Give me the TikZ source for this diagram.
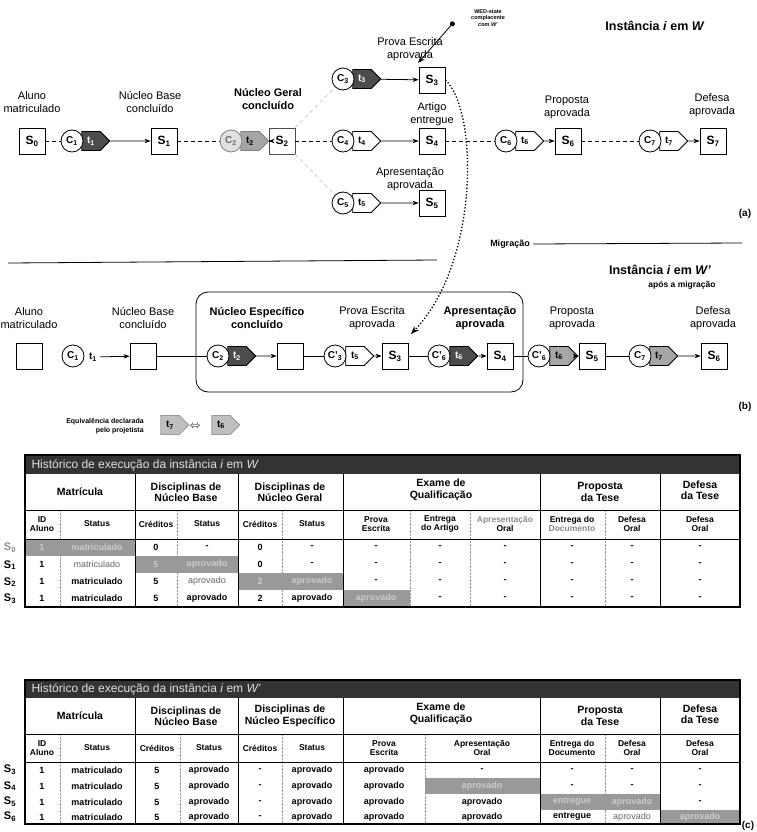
\documentclass[tikz,border=0pt]{standalone}
\usepackage{fontspec}
\setmainfont{Liberation Sans}
\usetikzlibrary{arrows.meta, positioning, shapes.symbols, calc}

\begin{document}
\begin{tikzpicture}[x=1pt, y=-1pt,
    lbl/.style={align=center, font=\fontsize{11}{13}\selectfont},
    blbl/.style={lbl, font=\fontsize{11}{13}\selectfont\bfseries},
    st/.style={draw, thick, fill=white, minimum size=26pt, inner sep=0pt, font=\fontsize{12}{12}\selectfont\bfseries},
    cnd/.style={circle, draw, thick, fill=white, minimum size=22pt, inner sep=0pt, font=\fontsize{10}{10}\selectfont\bfseries},
    trn/.style={signal, signal to=east, draw, thick, fill=white, minimum width=28pt, minimum height=19pt, inner sep=0pt, font=\fontsize{10}{10}\selectfont\bfseries},
    dark/.style={fill=black!70, text=white},
    mid/.style={fill=black!35},
    arr/.style={-{Stealth[length=6pt]}, thick},
    dsh/.style={thick, dash pattern=on 4pt off 3pt},
    hd/.style={align=center, font=\fontsize{10.5}{11.5}\selectfont\bfseries},
    sub/.style={align=center, font=\fontsize{8.5}{9}\selectfont\bfseries},
    cell/.style={font=\fontsize{9}{9}\selectfont\bfseries},
    hl/.style={cell, text=black!20},
    dim/.style={font=\fontsize{9}{9}\selectfont, text=black!60},
    rowl/.style={font=\fontsize{11}{11}\selectfont\bfseries}]
  \useasboundingbox (0,0) rectangle (756,832);

  % (a) instance in W
  \node[font=\fontsize{12.5}{12.5}\selectfont\bfseries] (titA) at (655,26) {Instância \textit{i} em \textit{W}};
  \node[align=center, font=\fontsize{5.5}{6.5}\selectfont\bfseries] (wed) at (488,18) {WED-state\\complacente\\com \textit{W'}};
  \coordinate (weddot) at (454,22);
  \coordinate (wedtip) at (418,63);
  \draw[{Circle[length=5pt]}-{Stealth[length=7pt]}, thick] (weddot) -- (wedtip);

  \node[lbl] (l0) at (32,102) {Aluno\\matriculado};
  \node[lbl] (l1) at (150,102) {Núcleo Base\\concluído};
  \node[blbl] (l2) at (268,99) {Núcleo Geral\\concluído};
  \node[lbl] (l3) at (410,49) {Prova Escrita\\aprovada};
  \node[lbl] (l4) at (432,114) {Artigo\\entregue};
  \node[lbl] (l5) at (410,179) {Apresentação\\aprovada};
  \node[lbl] (l6) at (567,107) {Proposta\\aprovada};
  \node[lbl] (l7) at (712,105) {Defesa\\aprovada};

  \node[st] (S0) at (32,141) {S\textsubscript{0}};
  \node[trn, dark] (t1) at (91,141) {t\textsubscript{1}};
  \node[cnd] (C1) at (72,141) {C\textsubscript{1}};
  \node[st] (S1) at (164,141) {S\textsubscript{1}};
  \node[trn, mid, draw=black!50] (t2) at (250,141) {t\textsubscript{2}};
  \node[cnd, draw=black!50, fill=black!12, text=black!60] (C2) at (231,141) {C\textsubscript{2}};
  \node[st, draw=black!70] (S2) at (282,141) {S\textsubscript{2}};
  \node[trn, dark] (t3) at (362,79) {t\textsubscript{3}};
  \node[cnd] (C3) at (343,79) {C\textsubscript{3}};
  \node[st] (S3) at (432,80) {S\textsubscript{3}};
  \node[trn] (t4) at (362,141) {t\textsubscript{4}};
  \node[cnd] (C4) at (343,141) {C\textsubscript{4}};
  \node[st] (S4) at (432,141) {S\textsubscript{4}};
  \node[trn] (t5) at (362,203) {t\textsubscript{5}};
  \node[cnd] (C5) at (343,203) {C\textsubscript{5}};
  \node[st] (S5) at (432,203) {S\textsubscript{5}};
  \node[trn] (t6) at (525,141) {t\textsubscript{6}};
  \node[cnd] (C6) at (506,141) {C\textsubscript{6}};
  \node[st] (S6) at (568,141) {S\textsubscript{6}};
  \node[trn] (t7) at (669,141) {t\textsubscript{7}};
  \node[cnd] (C7) at (650,141) {C\textsubscript{7}};
  \node[st] (S7) at (713,141) {S\textsubscript{7}};

  \draw[dsh] (S0) -- (C1);
  \draw[dsh] (S1) -- (C2);
  \draw[dsh] (S2) -- (C4);
  \draw[dsh] (S4) -- (C6);
  \draw[dsh] (S6) -- (C7);
  \draw[dsh, black!20] (S2) -- (C3);
  \draw[dsh, black!20] (S2) -- (C5);
  \draw[arr] (t1) -- (S1);
  \draw[arr] (t2) -- (S2);
  \draw[arr] (t3) -- (S3);
  \draw[arr] (t4) -- (S4);
  \draw[arr] (t5) -- (S5);
  \draw[arr] (t6) -- (S6);
  \draw[arr] (t7) -- (S7);

  \node[font=\fontsize{10}{10}\selectfont\bfseries] (capA) at (745,214) {(a)};

  % migration
  \draw[thick] (8,263) -- (437,260);
  \node[font=\fontsize{9}{9}\selectfont\bfseries] (mlbl) at (510,244) {Migração};
  \draw[thick] (mlbl.east) -- (742,243);
  \coordinate (mig) at (411,334);
  \draw[dotted, line width=1.3pt, -{Stealth[length=8pt]}] (S3.east) .. controls (478,110) and (480,262) .. (mig);

  % (b) instance in W' after migration
  \node[font=\fontsize{12.5}{12.5}\selectfont\bfseries] (titB) at (660,270) {Instância \textit{i} em \textit{W'}};
  \node[font=\fontsize{8.5}{8.5}\selectfont\bfseries] (subB) at (682,285) {após a migração};
  \draw[thick, rounded corners=12pt] (196,292) rectangle (523,392);

  \node[lbl] (bl0) at (29,318) {Aluno\\matriculado};
  \node[lbl] (bl1) at (143,318) {Núcleo Base\\concluído};
  \node[blbl] (bl2) at (257,318) {Núcleo Específico\\concluído};
  \node[lbl] (bl3) at (372,318) {Prova Escrita\\aprovada};
  \node[blbl] (bl4) at (480,318) {Apresentação\\aprovada};
  \node[lbl] (bl5) at (572,318) {Proposta\\aprovada};
  \node[lbl] (bl6) at (713,318) {Defesa\\aprovada};

  \node[st] (bS0) at (29,356) {};
  \node[cnd] (bC1) at (73,356) {C\textsubscript{1}};
  \node[font=\fontsize{10}{10}\selectfont\bfseries] (bt1) at (93,357) {t\textsubscript{1}};
  \node[st] (bS1) at (143,356) {};
  \node[trn, dark] (bt2) at (237,356) {t\textsubscript{2}};
  \node[cnd] (bC2) at (218,356) {C\textsubscript{2}};
  \node[st] (bS2) at (290,356) {};
  \node[trn] (bt3) at (355,356) {t\textsubscript{5}};
  \node[cnd] (bC3) at (335,356) {C'\textsubscript{3}};
  \node[st] (bS3) at (395,356) {S\textsubscript{3}};
  \node[trn, dark] (bt4) at (459,356) {t\textsubscript{6}};
  \node[cnd] (bC4) at (439,356) {C'\textsubscript{6}};
  \node[st] (bS4) at (500,356) {S\textsubscript{4}};
  \node[trn, mid] (bt5) at (559,356) {t\textsubscript{6}};
  \node[cnd] (bC5) at (539,356) {C'\textsubscript{6}};
  \node[st] (bS5) at (592,356) {S\textsubscript{5}};
  \node[trn, mid] (bt6) at (659,356) {t\textsubscript{7}};
  \node[cnd] (bC6) at (640,356) {C\textsubscript{7}};
  \node[st] (bS6) at (714,356) {S\textsubscript{6}};

  \draw[thick] (bS1) -- (bC2);
  \draw[thick] (bS2) -- (bC3);
  \draw[thick] (bS3) -- (bC4);
  \draw[thick] (bS4) -- (bC5);
  \draw[thick] (bS5) -- (bC6);
  \draw[arr] (bt1) -- (bS1);
  \draw[arr] (bt2) -- (bS2);
  \draw[arr] (bt3) -- (bS3);
  \draw[arr] (bt4) -- (bS4);
  \draw[arr] (bt5) -- (bS5);
  \draw[arr] (bt6) -- (bS6);

  \node[font=\fontsize{10}{10}\selectfont\bfseries] (capB) at (745,407) {(b)};

  % equivalence legend
  \node[align=right, font=\fontsize{7}{9}\selectfont\bfseries] (eq) at (105,426) {Equivalência declarada\\pelo projetista};
  \node[trn, fill=black!25, draw=black!40] (eqa) at (170,425) {t\textsubscript{7}};
  \node[font=\fontsize{11}{11}\selectfont] (eqs) at (195,426) {$\Leftrightarrow$};
  \node[trn, fill=black!25, draw=black!40] (eqb) at (221,425) {t\textsubscript{6}};

  % table 1: history in W
  \fill[black!40] (25,539) rectangle (135,556);
  \fill[black!40] (135,556) rectangle (238,573);
  \fill[black!40] (238,573) rectangle (343,590);
  \fill[black!40] (343,590) rectangle (410,607);
  \fill[black!80] (25,455) rectangle (740,474);
  \node[anchor=west, text=black!12, font=\fontsize{12}{12}\selectfont] (h1) at (28,465) {Histórico de execução da instância \textit{i} em \textit{W}};
  \foreach \x in {135,238,343,540,660}
    \draw[thick] (\x,474) -- (\x,607);
  \foreach \x in {60,177,282,410,470,605}
    \draw[densely dotted, black!40] (\x,510) -- (\x,607);
  \draw (25,510) -- (740,510);
  \draw[thick] (25,539) -- (740,539);
  \draw[line width=1.3pt] (25,455) rectangle (740,607);

  \node[hd] (g1) at (80,492) {Matrícula};
  \node[hd] (g2) at (186,492) {Disciplinas de\\Núcleo Base};
  \node[hd] (g3) at (290,492) {Disciplinas de\\Núcleo Geral};
  \node[hd] (g4) at (441,490) {Exame de\\Qualificação};
  \node[hd] (g5) at (600,492) {Proposta\\da Tese};
  \node[hd] (g6) at (700,490) {Defesa\\da Tese};
  \foreach \x/\v [count=\c] in {42/ID\\Aluno, 97/Status, 156/Créditos, 207/Status, 260/Créditos, 312/Status, 376/Prova\\Escrita, 440/Entrega\\do Artigo, 505/{\textcolor{black!45}{Apresentação}}\\Oral, 572/Entrega do\\{\textcolor{black!45}{Documento}}, 632/Defesa\\Oral, 700/Defesa\\Oral}
    \node[sub] (u\c) at (\x,524) {\v};

  \node[rowl, text=black!45] (r0) at (10,548) {S\textsubscript{0}};
  \node[rowl] (r1) at (10,565) {S\textsubscript{1}};
  \node[rowl] (r2) at (10,582) {S\textsubscript{2}};
  \node[rowl] (r3) at (10,599) {S\textsubscript{3}};
  \foreach \x/\v/\s [count=\c] in {42/1/hl, 97/matriculado/hl, 156/0/cell, 207/-/cell, 260/0/cell, 312/-/cell, 376/-/cell, 440/-/cell, 505/-/cell, 572/-/cell, 632/-/cell, 700/-/cell}
    \node[\s] (a0\c) at (\x,547.5) {\v};
  \foreach \x/\v/\s [count=\c] in {42/1/cell, 97/matriculado/dim, 156/5/hl, 207/aprovado/hl, 260/0/cell, 312/-/cell, 376/-/cell, 440/-/cell, 505/-/cell, 572/-/cell, 632/-/cell, 700/-/cell}
    \node[\s] (a1\c) at (\x,564.5) {\v};
  \foreach \x/\v/\s [count=\c] in {42/1/cell, 97/matriculado/cell, 156/5/cell, 207/aprovado/dim, 260/2/hl, 312/aprovado/hl, 376/-/cell, 440/-/cell, 505/-/cell, 572/-/cell, 632/-/cell, 700/-/cell}
    \node[\s] (a2\c) at (\x,581.5) {\v};
  \foreach \x/\v/\s [count=\c] in {42/1/cell, 97/matriculado/cell, 156/5/cell, 207/aprovado/cell, 260/2/cell, 312/aprovado/cell, 376/aprovado/hl, 440/-/cell, 505/-/cell, 572/-/cell, 632/-/cell, 700/-/cell}
    \node[\s] (a3\c) at (\x,598.5) {\v};

  % table 2: history in W'
  \fill[black!40] (425,778) rectangle (540,794);
  \fill[black!40] (540,794) rectangle (660,810);
  \fill[black!40] (660,810) rectangle (740,824);
  \fill[black!80] (25,680) rectangle (740,698);
  \node[anchor=west, text=black!12, font=\fontsize{12}{12}\selectfont] (h2) at (28,689) {Histórico de execução da instância \textit{i} em \textit{W'}};
  \foreach \x in {135,238,343,540,660}
    \draw[thick] (\x,698) -- (\x,824);
  \foreach \x in {60,180,282,425,605}
    \draw[densely dotted, black!40] (\x,734) -- (\x,824);
  \draw (25,734) -- (740,734);
  \draw[thick] (25,762) -- (740,762);
  \draw[line width=1.3pt] (25,680) rectangle (740,824);

  \node[hd] (k1) at (80,716) {Matrícula};
  \node[hd] (k2) at (186,716) {Disciplinas de\\Núcleo Base};
  \node[hd] (k3) at (290,716) {Disciplinas de\\Núcleo Específico};
  \node[hd] (k4) at (441,714) {Exame de\\Qualificação};
  \node[hd] (k5) at (600,716) {Proposta\\da Tese};
  \node[hd] (k6) at (700,714) {Defesa\\da Tese};
  \foreach \x/\v [count=\c] in {42/ID\\Aluno, 97/Status, 157/Créditos, 209/Status, 260/Créditos, 312/Status, 384/Prova\\Escrita, 482/Apresentação\\Oral, 572/Entrega do\\Documento, 632/Defesa\\Oral, 700/Defesa\\Oral}
    \node[sub] (v\c) at (\x,748) {\v};

  \node[rowl] (q3) at (10,770) {S\textsubscript{3}};
  \node[rowl] (q4) at (10,786) {S\textsubscript{4}};
  \node[rowl] (q5) at (10,802) {S\textsubscript{5}};
  \node[rowl] (q6) at (10,817) {S\textsubscript{6}};
  \foreach \x/\v/\s [count=\c] in {42/1/cell, 97/matriculado/cell, 157/5/cell, 209/aprovado/cell, 260/-/cell, 312/aprovado/cell, 384/aprovado/cell, 482/-/cell, 572/-/cell, 632/-/cell, 700/-/cell}
    \node[\s] (b3\c) at (\x,770) {\v};
  \foreach \x/\v/\s [count=\c] in {42/1/cell, 97/matriculado/cell, 157/5/cell, 209/aprovado/cell, 260/-/cell, 312/aprovado/cell, 384/aprovado/cell, 482/aprovado/hl, 572/-/cell, 632/-/cell, 700/-/cell}
    \node[\s] (b4\c) at (\x,786) {\v};
  \foreach \x/\v/\s [count=\c] in {42/1/cell, 97/matriculado/cell, 157/5/cell, 209/aprovado/cell, 260/-/cell, 312/aprovado/cell, 384/aprovado/cell, 482/aprovado/cell, 572/entregue/hl, 632/aprovado/hl, 700/-/cell}
    \node[\s] (b5\c) at (\x,802) {\v};
  \foreach \x/\v/\s [count=\c] in {42/1/cell, 97/matriculado/cell, 157/5/cell, 209/aprovado/cell, 260/-/cell, 312/aprovado/cell, 384/aprovado/cell, 482/aprovado/cell, 572/entregue/cell, 632/aprovado/dim, 700/aprovado/hl}
    \node[\s] (b6\c) at (\x,817) {\v};

  \node[font=\fontsize{10}{10}\selectfont\bfseries] (capC) at (748,826) {(c)};
\end{tikzpicture}
\end{document}
